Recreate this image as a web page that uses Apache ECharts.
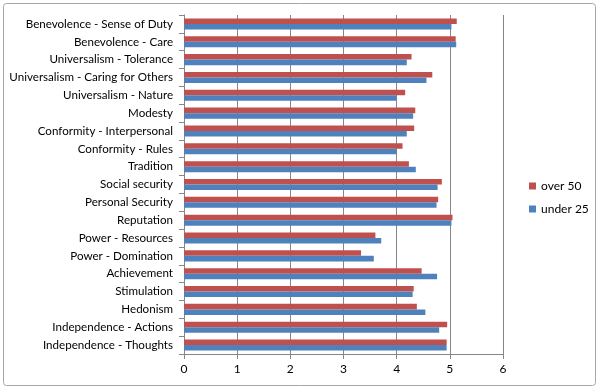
<!DOCTYPE html>
<html><head><meta charset="utf-8">
<script src="https://cdn.jsdelivr.net/npm/echarts@6/dist/echarts.min.js"></script>
<style>html,body{margin:0;padding:0;background:#fff}#c{width:600px;height:390px}</style>
</head><body><div id="c"></div>
<script>
var categories = ["Independence - Thoughts","Independence - Actions","Hedonism","Stimulation","Achievement","Power - Domination","Power - Resources","Reputation","Personal Security","Social security","Tradition","Conformity - Rules","Conformity - Interpersonal","Modesty","Universalism - Nature","Universalism - Caring for Others","Universalism - Tolerance","Benevolence - Care","Benevolence - Sense of Duty"];
var over50 = [4.94,4.95,4.38,4.32,4.47,3.33,3.60,5.05,4.78,4.85,4.23,4.11,4.33,4.35,4.16,4.67,4.28,5.11,5.13];
var under25 = [4.94,4.80,4.54,4.30,4.76,3.57,3.71,5.03,4.75,4.77,4.36,4.00,4.19,4.31,4.00,4.56,4.19,5.12,5.03];
var xTicks = [0,1,2,3,4,5,6];

var chart = echarts.init(document.getElementById('c'));
var font = 'Lato';
chart.setOption({
  animation:false,
  textStyle:{fontFamily:font},
  graphic:[{type:'rect',shape:{x:3.5,y:3.5,width:592,height:382,r:3},style:{fill:'none',stroke:'#a6a6a6',lineWidth:1}}],
  grid:{left:184,right:97,top:15,bottom:36},
  legend:{data:['over 50','under 25'],orient:'vertical',left:524,top:175,itemWidth:7,itemHeight:7,itemGap:11,icon:'rect',
    textStyle:{fontFamily:font,fontSize:12,color:'#000'}},
  xAxis:{type:'value',min:0,max:6,interval:1,
    axisLine:{show:true,lineStyle:{color:'#868686'}},
    axisTick:{show:true,length:5,lineStyle:{color:'#868686'}},
    splitLine:{show:true,lineStyle:{color:'#868686'}},
    axisLabel:{color:'#000',fontSize:12,margin:9,fontFamily:font,formatter:function(v){return xTicks.indexOf(v)>=0?String(v):'';}}},
  yAxis:{type:'category',data:categories,
    axisLine:{show:true,lineStyle:{color:'#868686'}},
    axisTick:{show:true,length:5,lineStyle:{color:'#868686'}},
    axisLabel:{color:'#000',fontSize:11.6,margin:11,fontFamily:font}},
  series:[
    {name:'over 50',type:'bar',data:over50,barGap:'0%',barCategoryGap:'38%',itemStyle:{color:'#C0504D'}},
    {name:'under 25',type:'bar',data:under25,barGap:'0%',barCategoryGap:'38%',itemStyle:{color:'#4F81BD'}}
  ]
});
</script></body></html>
